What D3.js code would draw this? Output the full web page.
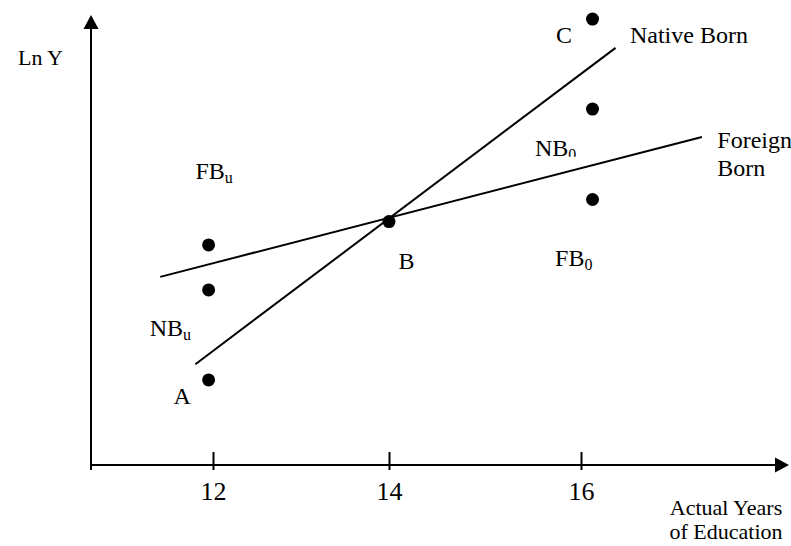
<!DOCTYPE html>
<html>
<head>
<meta charset="utf-8">
<script src="https://cdn.jsdelivr.net/npm/d3@7"></script>
<style>
  html, body { margin: 0; padding: 0; background: #fff; }
  svg { display: block; }
  text { font-family: "Liberation Serif", "Times New Roman", serif; fill: #000; }
</style>
</head>
<body>
<svg id="chart" width="791" height="546"></svg>
<script>
// ---------- data (x = years of education, y = Ln Y in arbitrary units) ----------
const xTickValues = [12, 14, 16];
const xTickLabels = ["12", "14", "16"];

const pointNames = ["A", "NBu", "FBu", "B", "FB0", "NB0", "C"];
const pointX     = [11.95, 11.95, 11.95, 14.0, 16.12, 16.12, 16.12];
const pointY     = [1.89, 3.89, 4.89, 5.41, 5.90, 7.91, 9.91];

const nativeX  = [11.80, 16.36];
const nativeY  = [2.24, 9.27];
const foreignX = [11.40, 17.26];
const foreignY = [4.18, 7.29];

// annotation labels: main text, subscript, anchor in data units
const labelText = ["FB", "NB", "A", "B", "C", "NB", "FB"];
const labelSub  = ["u", "u", "", "", "", "0", "0"];
const labelX    = [11.80, 11.28, 11.55, 14.10, 15.74, 15.52, 15.73];
const labelY    = [6.36, 2.87, 1.36, 4.36, 9.38, 6.87, 4.42];

const seriesNames   = ["Native Born", "Foreign Born"];
const seriesLabelX  = [16.51, 17.42];
const seriesLabelY  = [9.38, 7.04];

const yAxisTitle = "Ln Y";
const xAxisTitle = ["Actual Years", "of Education"];

// ---------- scales ----------
const svg = d3.select("#chart");
const x = d3.scaleLinear().domain(xTickValues).range([213, 389, 581]);
const y = d3.scaleLinear().domain([0, 10]).range([465, 15]);

const originX = 91;          // y axis position
const originY = y(0);        // x axis position
const xEnd = 789;            // arrow tip of x axis
const yEnd = y(10);          // arrow tip of y axis

const FS = 24, SUB = 16, TITLE = 22, TICK = 26;

// ---------- axes ----------
svg.append("line")
  .attr("x1", originX).attr("x2", originX)
  .attr("y1", originY + 5).attr("y2", yEnd + 12)
  .attr("stroke", "#000").attr("stroke-width", 2);
svg.append("path")
  .attr("d", `M${originX},${yEnd} L${originX - 7.5},${yEnd + 14} L${originX + 7.5},${yEnd + 14} Z`)
  .attr("fill", "#000");

svg.append("line")
  .attr("x1", originX).attr("x2", xEnd - 12)
  .attr("y1", originY).attr("y2", originY)
  .attr("stroke", "#000").attr("stroke-width", 2);
svg.append("path")
  .attr("d", `M${xEnd},${originY} L${xEnd - 14},${originY - 7.5} L${xEnd - 14},${originY + 7.5} Z`)
  .attr("fill", "#000");

const xAxis = d3.axisBottom(x)
  .tickValues(xTickValues)
  .tickFormat((d, i) => xTickLabels[i])
  .tickSizeOuter(0)
  .tickSizeInner(5)
  .tickPadding(0);
const gx = svg.append("g").attr("transform", `translate(0,${originY})`).call(xAxis);
gx.select(".domain").remove();
gx.selectAll(".tick line").attr("y1", -13).attr("y2", 5)
  .attr("stroke", "#000").attr("stroke-width", 2);
gx.selectAll(".tick text")
  .attr("y", 35).attr("dy", null)
  .attr("font-family", "Liberation Serif, Times New Roman, serif")
  .attr("font-size", TICK).attr("fill", "#000");

svg.append("text")
  .attr("x", originX - 28).attr("y", 65)
  .attr("text-anchor", "end").attr("font-size", TITLE)
  .text(yAxisTitle);

svg.append("text")
  .attr("text-anchor", "middle").attr("font-size", TITLE)
  .selectAll("tspan").data(xAxisTitle).join("tspan")
  .attr("x", 726).attr("y", (d, i) => 515 + i * 24)
  .text(d => d);

// ---------- lines ----------
const line = d3.line().x(d => x(d[0])).y(d => y(d[1]));
const nativeData  = nativeX.map((v, i) => [v, nativeY[i]]);
const foreignData = foreignX.map((v, i) => [v, foreignY[i]]);
svg.append("path").datum(nativeData).attr("d", line)
  .attr("fill", "none").attr("stroke", "#000").attr("stroke-width", 2);
svg.append("path").datum(foreignData).attr("d", line)
  .attr("fill", "none").attr("stroke", "#000").attr("stroke-width", 2);

// ---------- points ----------
svg.append("g").selectAll("circle")
  .data(pointNames.map((n, i) => ({ n, x: pointX[i], y: pointY[i] })))
  .join("circle")
  .attr("cx", d => x(d.x)).attr("cy", d => y(d.y)).attr("r", 6.5)
  .attr("fill", "#000");

// ---------- point labels ----------
svg.append("defs").append("clipPath").attr("id", "nb0clip")
  .append("rect").attr("x", 0).attr("y", 0).attr("width", 791).attr("height", y(labelY[5]) + 1);

labelText.forEach((t, i) => {
  const tx = svg.append("text")
    .attr("x", x(labelX[i])).attr("y", y(labelY[i]))
    .attr("font-size", FS);
  if (i === 5) tx.attr("clip-path", "url(#nb0clip)");
  tx.append("tspan").text(t);
  if (labelSub[i]) {
    tx.append("tspan").attr("font-size", SUB).attr("dy", 4).text(labelSub[i]);
  }
});

// ---------- series labels ----------
svg.append("text")
  .attr("x", x(seriesLabelX[0])).attr("y", y(seriesLabelY[0]))
  .attr("font-size", FS).text(seriesNames[0]);
const fbParts = seriesNames[1].split(" ");
svg.append("text").attr("font-size", FS)
  .selectAll("tspan").data(fbParts).join("tspan")
  .attr("x", x(seriesLabelX[1]))
  .attr("y", (d, i) => y(seriesLabelY[1]) + i * 28)
  .text(d => d);
</script>
</body>
</html>
